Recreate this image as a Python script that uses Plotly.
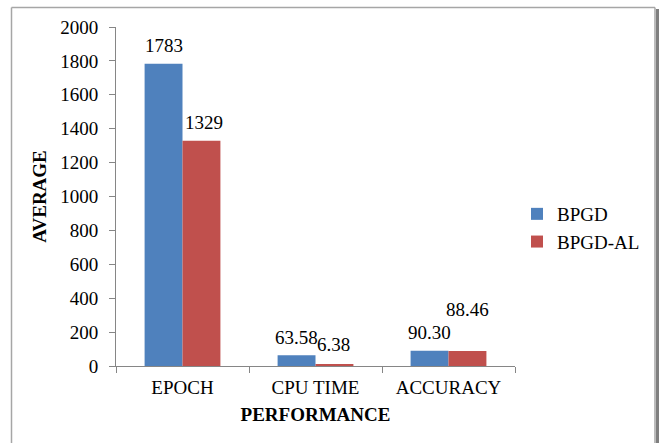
import plotly.graph_objects as go

# Average performance of the two training methods
categories = ["EPOCH", "CPU TIME", "ACCURACY"]
bpgd = [1783, 63.58, 90.30]
bpgd_al = [1329, 6.38, 88.46]
bpgd_labels = ["1783", "63.58", "90.30"]
bpgd_al_labels = ["1329", "6.38", "88.46"]
y_ticks = list(range(0, 2001, 200))

W, H = 661, 443
L, R, T, B = 116, 146, 27, 77
FONT = "Liberation Serif"
BLUE = "#4F81BD"
RED = "#C0504D"
AXIS = "#868686"

fig = go.Figure()
fig.add_trace(go.Bar(name="BPGD", x=categories, y=bpgd, marker=dict(color=BLUE, line=dict(width=0))))
fig.add_trace(go.Bar(name="BPGD-AL", x=categories, y=bpgd_al, marker=dict(color=RED, line=dict(width=0))))

# value labels above each bar (pixel nudges keep them clear of their neighbours)
bpgd_shift = [(0, 18), (0, 18), (0, 18)]
al_shift = [(2, 18), (-1, 20), (0, 42)]
for i, c in enumerate(categories):
    fig.add_annotation(x=c, y=bpgd[i], text=bpgd_labels[i], showarrow=False,
                       xref="x", yref="y", xshift=-19 + bpgd_shift[i][0], yshift=bpgd_shift[i][1],
                       font=dict(family=FONT, size=19, color="black"))
    fig.add_annotation(x=c, y=bpgd_al[i], text=bpgd_al_labels[i], showarrow=False,
                       xref="x", yref="y", xshift=19 + al_shift[i][0], yshift=al_shift[i][1],
                       font=dict(family=FONT, size=19, color="black"))

pw, ph = W - L - R, H - T - B

def px(x):
    return (x - L) / pw

def py(y):
    return (H - B - y) / ph

# chart frame: light left/top edges, darker shadowed right edge
frame = dict(type="line", xref="paper", yref="paper", line=dict(color="#A6A6A6", width=1.5))
fig.add_shape(**frame, x0=px(11.5), x1=px(11.5), y0=py(460), y1=py(7.5))
fig.add_shape(**frame, x0=px(11.5), x1=px(655), y0=py(7.5), y1=py(7.5))
fig.add_shape(**frame, x0=px(655), x1=px(655), y0=py(460), y1=py(7.5))
fig.add_shape(type="rect", xref="paper", yref="paper", x0=px(656), x1=px(659),
              y0=py(460), y1=py(9), line=dict(width=0), fillcolor="#7F7F7F")

fig.update_layout(
    width=W, height=H,
    margin=dict(l=L, r=R, t=T, b=B),
    paper_bgcolor="white", plot_bgcolor="white",
    barmode="group", bargap=0.43, bargroupgap=0,
    font=dict(family=FONT, size=19, color="black"),
    showlegend=True,
    legend=dict(x=px(517), y=py(195), xanchor="left", yanchor="top",
                font=dict(family=FONT, size=19, color="black"),
                itemwidth=30, tracegroupgap=2, bgcolor="rgba(0,0,0,0)"),
    xaxis=dict(showline=True, linecolor=AXIS, linewidth=1, ticks="outside",
               tickson="boundaries", ticklen=6, tickcolor=AXIS, showgrid=False,
               ticklabelstandoff=4,
               title=dict(text="<b>PERFORMANCE</b>", font=dict(family=FONT, size=19), standoff=10),
               tickfont=dict(family=FONT, size=19)),
    yaxis=dict(range=[0, 2000], tickvals=y_ticks, showline=True, linecolor=AXIS, linewidth=1,
               ticks="outside", ticklen=6, tickcolor=AXIS, showgrid=False, zeroline=False,
               ticklabelstandoff=7,
               title=dict(text="<b>AVERAGE</b>", font=dict(family=FONT, size=19), standoff=8),
               tickfont=dict(family=FONT, size=19)),
)

fig.write_html("out.html")
